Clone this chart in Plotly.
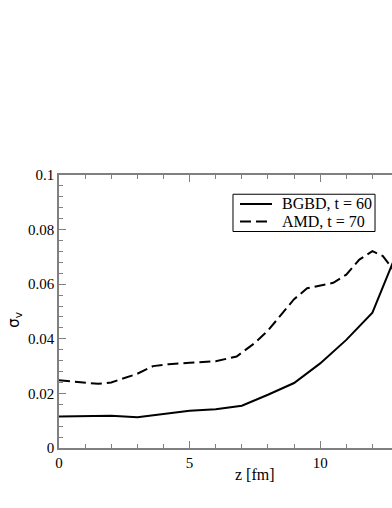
import plotly.graph_objects as go

# BGBD, t = 60
z_bgbd = [0, 1, 2, 3, 4, 5, 6, 7, 8, 9, 10, 11, 12, 13]
sig_bgbd = [0.0115, 0.0117, 0.0118, 0.0113, 0.0125, 0.0136, 0.0142, 0.0155,
            0.0195, 0.0238, 0.0310, 0.0396, 0.0496, 0.0730]

# AMD, t = 70
z_amd = [0, 1, 1.5, 2, 3, 3.6, 4.2, 5, 6, 6.8, 7.5, 8, 9, 9.5, 10.5, 11, 11.5, 12, 12.4, 13]
sig_amd = [0.0248, 0.0240, 0.0235, 0.0240, 0.0272, 0.0300, 0.0307, 0.0312, 0.0318,
           0.0335, 0.0385, 0.0430, 0.0545, 0.0585, 0.0605, 0.0635, 0.0690, 0.0721,
           0.0703, 0.0628]

names = ["BGBD, t = 60", "AMD, t = 70"]
dashes = ["solid", "11px,5px"]

serif = "Liberation Serif"

fig = go.Figure()
fig.add_trace(go.Scatter(x=z_bgbd, y=sig_bgbd, mode="lines", name=names[0],
                         line=dict(color="black", width=2, dash=dashes[0])))
fig.add_trace(go.Scatter(x=z_amd, y=sig_amd, mode="lines", name=names[1],
                         line=dict(color="black", width=2, dash=dashes[1])))

grey = "#808080"
fig.update_xaxes(range=[0, 12.75], dtick=5, tick0=0, mirror="ticks",
                 showgrid=False, zeroline=False, showline=True, linecolor=grey, linewidth=1.5,
                 ticks="inside", tickcolor=grey, tickwidth=1, ticklen=7,
                 tickfont=dict(family=serif, size=15, color="black"),
                 minor=dict(dtick=1, ticks="inside", ticklen=4, tickcolor=grey))
fig.update_yaxes(range=[0, 0.1], dtick=0.02, tick0=0, mirror=False,
                 showgrid=False, zeroline=False, showline=True, linecolor=grey, linewidth=1.5,
                 ticks="inside", tickcolor=grey, tickwidth=1, ticklen=7,
                 tickfont=dict(family=serif, size=15, color="black"),
                 minor=dict(dtick=0.004, ticks="inside", ticklen=4, tickcolor=grey))

# axis titles
fig.add_annotation(text="z [fm]", x=7.5, xref="x", y=0, yref="paper", yshift=-26,
                   xanchor="center", yanchor="middle", showarrow=False,
                   font=dict(family=serif, size=16, color="black"))
fig.add_annotation(text="σ<sub>v</sub>", x=0, xref="paper", xshift=-44, y=0.47, yref="paper",
                   xanchor="center", yanchor="middle", textangle=-90, showarrow=False,
                   font=dict(family="DejaVu Sans", size=15, color="black"))

# legend box drawn in the upper right, like the original
fig.add_shape(type="rect", xref="paper", yref="paper", x0=0.5225, x1=0.949, y0=0.793, y1=0.9295,
              line=dict(color="black", width=1), fillcolor="white", layer="above")
rows_y = [0.894, 0.830]
for name, dash, ry in zip(names, dashes, rows_y):
    fig.add_shape(type="line", xref="paper", yref="paper", x0=0.5435, x1=0.6396, y0=ry, y1=ry,
                  line=dict(color="black", width=2, dash=dash), layer="above")
    fig.add_annotation(text=name, xref="paper", yref="paper", x=0.6637, y=ry,
                       xanchor="left", yanchor="middle", showarrow=False,
                       font=dict(family=serif, size=16, color="black"))

fig.update_layout(
    width=392, height=508,
    margin=dict(l=59, r=0, t=175, b=60),
    paper_bgcolor="white", plot_bgcolor="white",
    font=dict(family=serif, color="black"),
    showlegend=False,
)

fig.write_html("out.html", config={"displayModeBar": False},
               post_script="document.body.style.margin='0';")
